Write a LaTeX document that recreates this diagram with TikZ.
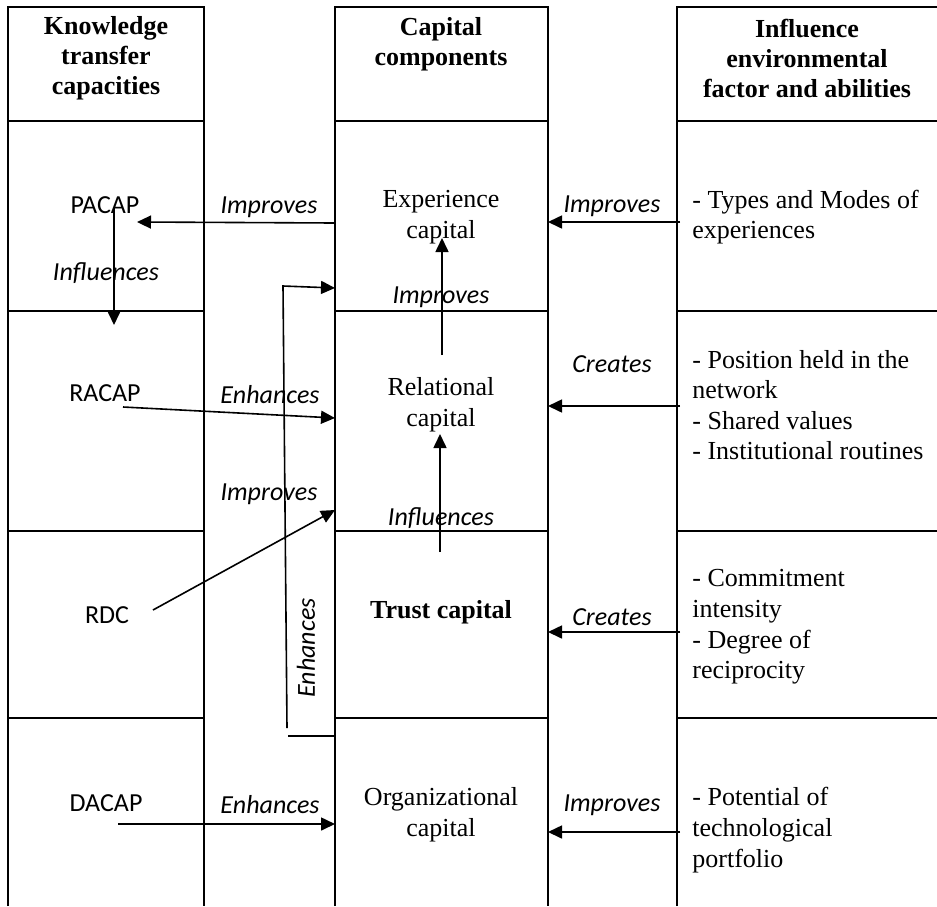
\documentclass[tikz,border=0pt]{standalone}
\usepackage{fontspec}
\setmainfont{Liberation Serif}
\newfontfamily\labfont{Carlito}
\usetikzlibrary{arrows.meta}
\begin{document}
\begin{tikzpicture}[x=0.5pt,y=-0.5pt,
  grid/.style={line width=1.2pt},
  arr/.style={line width=0.8pt,-{Triangle[length=7pt,width=6.5pt]}},
  plainline/.style={line width=0.8pt},
  body/.style={font=\fontsize{13}{15.3}\selectfont, align=center, inner sep=0pt},
  head/.style={font=\fontsize{13}{15}\selectfont\bfseries, align=center, inner sep=0pt},
  side/.style={font=\fontsize{13}{15.3}\selectfont, align=left, anchor=west, inner sep=0pt},
  lab/.style={font=\labfont\itshape\fontsize{13}{15}\selectfont, inner sep=0pt},
  abbr/.style={font=\labfont\fontsize{13}{15}\selectfont, inner sep=0pt}]
\useasboundingbox (0,0) rectangle (937,906);
% table grid
\foreach \l/\r in {8/204, 335/548} {
  \draw[grid] (\l,906) -- (\l,7) -- (\r,7) -- (\r,906);
  \foreach \y in {121,311,531,718} \draw[grid] (\l,\y) -- (\r,\y);
}
\draw[grid] (677,906) -- (677,7) -- (940,7);
\foreach \y in {121,311,531,718} \draw[grid] (677,\y) -- (940,\y);
% headers
\node[head] (h1) at (106,58) {Knowledge\\transfer\\capacities};
\node[head] (h2) at (441,44) {Capital\\components};
\node[head] (h3) at (807,58) {Influence\\environmental\\factor and abilities};
% left column
\node[abbr] (pacap) at (105,205) {PACAP};
\node[abbr] (racap) at (105,393) {RACAP};
\node[abbr] (rdc) at (107,615) {RDC};
\node[abbr] (dacap) at (106,803) {DACAP};
% middle column
\node[body] (exp) at (441,217) {Experience\\capital};
\node[body] (rel) at (441,405) {Relational\\capital};
\node[head] (trust) at (441,612) {Trust capital};
\node[body] (org) at (441,815) {Organizational\\capital};
% right column
\node[side] (f1) at (692,217) {- Types and Modes of\\experiences};
\node[side] (f2) at (692,405) {- Position held in the\\network\\- Shared values\\- Institutional routines};
\node[side] (f3) at (692,627) {- Commitment\\intensity\\- Degree of\\reciprocity};
\node[side] (f4) at (692,830) {- Potential of\\technological\\portfolio};
% connector labels
\node[lab] (l1) at (269,207) {Improves};
\node[lab] (l2) at (612,206) {Improves};
\node[lab] (l3) at (441,297) {Improves};
\node[lab] (l4) at (106,273) {Influences};
\node[lab] (l5) at (270,395) {Enhances};
\node[lab] (l6) at (269,494) {Improves};
\node[lab] (l7) at (612,364) {Creates};
\node[lab] (l8) at (441,518) {Influences};
\node[lab] (l9) at (612,617) {Creates};
\node[lab,rotate=90] (l10) at (306,648) {Enhances};
\node[lab] (l11) at (270,805) {Enhances};
\node[lab] (l12) at (612,805) {Improves};
% connector end points
\coordinate (e1s) at (335,223); \coordinate (e1t) at (137,222);
\coordinate (e2s) at (114,208); \coordinate (e2t) at (114,325);
\coordinate (e3s) at (680,222); \coordinate (e3t) at (548,222);
\coordinate (e4s) at (442,355); \coordinate (e4t) at (442,238);
\coordinate (e5a) at (335,736); \coordinate (e5b) at (288,736);
\coordinate (e5c) at (287,728); \coordinate (e5d) at (283,286); \coordinate (e5t) at (335,288);
\coordinate (e6s) at (123,407); \coordinate (e6t) at (335,418);
\coordinate (e7s) at (153,610); \coordinate (e7t) at (335,510);
\coordinate (e8s) at (440,552); \coordinate (e8t) at (440,434);
\coordinate (e9s) at (680,406); \coordinate (e9t) at (548,406);
\coordinate (e10s) at (680,632); \coordinate (e10t) at (548,632);
\coordinate (e11s) at (680,832); \coordinate (e11t) at (548,832);
\coordinate (e12s) at (118,824); \coordinate (e12t) at (335,824);
% connectors
\draw[arr] (e1s) -- (e1t);
\draw[arr] (e2s) -- (e2t);
\draw[arr] (e3s) -- (e3t);
\draw[arr] (e4s) -- (e4t);
\draw[plainline] (e5a) -- (e5b);
\draw[arr] (e5c) -- (e5d) -- (e5t);
\draw[arr] (e6s) -- (e6t);
\draw[arr] (e7s) -- (e7t);
\draw[arr] (e8s) -- (e8t);
\draw[arr] (e9s) -- (e9t);
\draw[arr] (e10s) -- (e10t);
\draw[arr] (e11s) -- (e11t);
\draw[arr] (e12s) -- (e12t);
\end{tikzpicture}
\end{document}
